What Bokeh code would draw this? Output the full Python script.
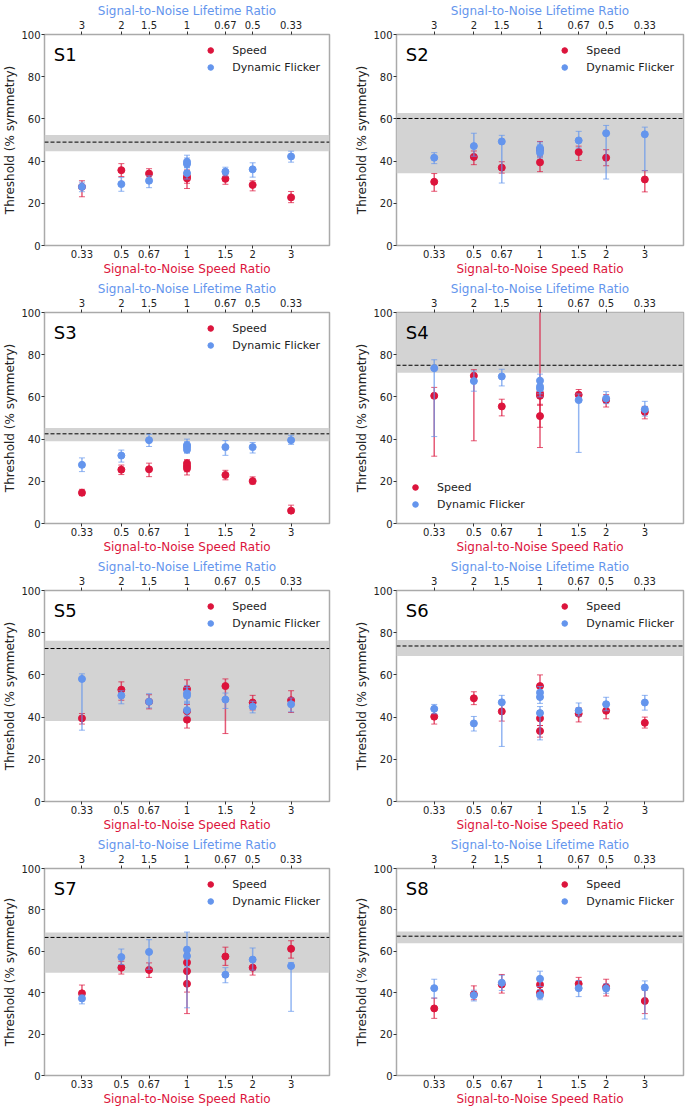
from bokeh.plotting import figure
from bokeh.models import (Range1d, FixedTicker, LogAxis, BoxAnnotation, Span, Label,
                          ColumnDataSource, BasicTickFormatter)
from bokeh.layouts import column, row
from bokeh.embed import file_html
from bokeh.resources import INLINE

FONT = "DejaVu Sans"
RED = "#DC143C"
BLUE = "#6495ED"

x_ticks = [0.33, 0.5, 0.67, 1, 1.5, 2, 3]
speed_tick_labels = ["0.33", "0.5", "0.67", "1", "1.5", "2", "3"]
lifetime_tick_labels = ["3", "2", "1.5", "1", "0.67", "0.5", "0.33"]
y_ticks = [0, 20, 40, 60, 80, 100]

subjects = ["S1", "S2", "S3", "S4", "S5", "S6", "S7", "S8"]
band_low = [44.7, 34.3, 39.0, 71.4, 38.1, 68.9, 49.6, 63.9]
band_high = [52.4, 62.8, 45.3, 100.0, 76.2, 76.5, 69.1, 69.6]
chance_level = [49.0, 60.2, 42.5, 75.0, 72.5, 73.7, 66.7, 67.3]
legend_location = ["top_right", "top_right", "top_right", "bottom_left",
                   "top_right", "top_right", "top_right", "top_right"]

# (ratio, threshold, lower error, upper error)
s1_speed = [(0.33, 27.8, 23.1, 30.7), (0.5, 35.7, 32.7, 38.8), (0.67, 34.1, 31.9, 36.4),
            (1, 32.7, 29.5, 35.8), (1, 31.8, 27.0, 34.5), (1.5, 31.6, 29.0, 33.8),
            (2, 28.7, 25.9, 30.7), (3, 22.8, 20.3, 25.6)]
s1_flicker = [(0.33, 27.8, 25.5, 30.0), (0.5, 29.1, 25.7, 32.2), (0.67, 30.7, 27.4, 33.0),
              (1, 39.7, 36.8, 42.8), (1, 38.6, 35.5, 41.5), (1, 34.3, 31.5, 37.0),
              (1.5, 35.0, 33.0, 37.1), (2, 36.1, 32.4, 39.2), (3, 42.2, 39.5, 44.7)]

s2_speed = [(0.33, 30.2, 25.7, 34.1), (0.5, 42.0, 38.3, 44.8), (0.67, 36.9, 34.3, 39.7),
            (1, 45.5, 42.0, 49.3), (1, 39.4, 35.0, 42.8), (1.5, 44.3, 40.3, 47.1),
            (2, 41.6, 37.8, 45.4), (3, 31.3, 25.4, 35.5)]
s2_flicker = [(0.33, 41.6, 38.8, 44.0), (0.5, 47.1, 42.3, 53.2), (0.67, 49.3, 29.6, 52.2),
              (1, 46.2, 43.0, 49.0), (1, 45.1, 42.0, 48.0), (1, 44.0, 41.5, 47.0),
              (1.5, 49.8, 46.2, 54.1), (2, 53.2, 31.5, 56.9), (3, 52.7, 35.5, 56.1)]

s3_speed = [(0.33, 14.6, 13.2, 16.2), (0.5, 25.5, 23.2, 27.7), (0.67, 25.7, 22.2, 28.6),
            (1, 28.5, 26.0, 30.3), (1, 27.2, 24.5, 29.5), (1, 26.1, 23.0, 28.5),
            (1.5, 23.0, 20.7, 25.2), (2, 20.1, 18.7, 22.1), (3, 6.1, 5.0, 8.7)]
s3_flicker = [(0.33, 27.8, 24.6, 31.1), (0.5, 32.2, 29.1, 34.8), (0.67, 39.5, 36.5, 42.3),
              (1, 37.2, 34.5, 40.0), (1, 36.2, 33.8, 38.8), (1, 35.0, 33.3, 37.5),
              (1.5, 36.2, 32.3, 39.3), (2, 36.2, 33.4, 38.4), (3, 39.5, 37.5, 41.8)]

s4_speed = [(0.33, 60.5, 31.9, 64.5), (0.5, 70.0, 39.2, 72.9), (0.67, 55.5, 51.0, 58.9),
            (1, 61.7, 36.0, 105.0), (1, 60.5, 56.0, 64.5), (1, 50.9, 45.6, 56.5),
            (1.5, 61.0, 58.3, 63.5), (2, 58.5, 55.2, 61.1), (3, 52.9, 49.6, 55.5)]
s4_flicker = [(0.33, 73.6, 41.2, 77.6), (0.5, 67.5, 62.7, 72.3), (0.67, 69.7, 65.2, 73.1),
              (1, 67.7, 64.5, 70.8), (1, 64.9, 61.5, 68.0), (1, 63.9, 60.0, 67.0),
              (1.5, 58.5, 33.7, 61.4), (2, 59.3, 56.8, 62.5), (3, 54.1, 50.9, 57.9)]

s5_speed = [(0.33, 39.4, 36.7, 41.7), (0.5, 53.0, 48.0, 56.7), (0.67, 47.3, 43.9, 50.6),
            (1, 53.3, 49.5, 57.7), (1, 42.8, 39.5, 46.0), (1, 38.8, 34.8, 42.5),
            (1.5, 54.7, 32.2, 58.1), (2, 46.9, 43.4, 50.3), (3, 48.0, 42.2, 52.5)]
s5_flicker = [(0.33, 58.1, 33.8, 60.5), (0.5, 50.2, 46.3, 52.5), (0.67, 47.3, 44.4, 51.1),
              (1, 51.3, 47.5, 55.0), (1, 50.2, 46.5, 54.0), (1, 43.3, 40.5, 47.0),
              (1.5, 48.3, 44.1, 51.4), (2, 45.0, 42.0, 47.5), (3, 46.1, 42.5, 49.1)]

s6_speed = [(0.33, 40.2, 36.7, 43.6), (0.5, 48.9, 45.9, 52.0), (0.67, 42.7, 38.1, 46.7),
            (1, 54.7, 49.5, 60.0), (1, 39.4, 36.0, 43.0), (1, 33.4, 30.5, 36.0),
            (1.5, 41.6, 37.7, 44.4), (2, 43.0, 39.2, 46.3), (3, 37.3, 34.8, 40.0)]
s6_flicker = [(0.33, 43.9, 41.6, 46.0), (0.5, 37.0, 33.4, 40.3), (0.67, 47.0, 26.1, 50.3),
              (1, 51.6, 48.5, 54.5), (1, 49.5, 46.5, 52.5), (1, 41.9, 29.2, 45.0),
              (1.5, 43.1, 40.5, 46.7), (2, 46.1, 43.0, 49.4), (3, 46.9, 43.3, 50.3)]

s7_speed = [(0.33, 39.7, 36.6, 43.7), (0.5, 52.1, 49.0, 55.2), (0.67, 51.0, 47.4, 54.4),
            (1, 54.6, 50.5, 59.0), (1, 50.4, 40.3, 55.0), (1, 44.3, 29.9, 50.5),
            (1.5, 57.5, 53.2, 62.0), (2, 52.1, 48.5, 55.2), (3, 61.2, 56.7, 65.1)]
s7_flicker = [(0.33, 37.2, 34.6, 38.9), (0.5, 57.2, 53.6, 61.1), (0.67, 59.7, 51.3, 65.6),
              (1, 60.8, 52.5, 69.3), (1, 57.7, 32.7, 62.0), (1.5, 48.7, 44.8, 52.1),
              (2, 56.0, 50.9, 61.6), (3, 52.9, 31.0, 54.6)]

s8_speed = [(0.33, 32.4, 27.6, 37.4), (0.5, 39.2, 36.6, 43.3), (0.67, 44.0, 39.8, 48.8),
            (1, 43.9, 41.0, 47.0), (1, 40.0, 37.5, 43.0), (1.5, 44.3, 41.2, 47.4),
            (2, 42.8, 38.4, 46.5), (3, 36.0, 29.9, 41.2)]
s8_flicker = [(0.33, 42.2, 37.4, 46.5), (0.5, 38.8, 36.0, 41.2), (0.67, 44.8, 41.1, 48.4),
              (1, 46.7, 43.0, 50.4), (1, 38.8, 36.6, 41.5), (1.5, 42.2, 38.1, 45.9),
              (2, 42.0, 39.7, 44.3), (3, 42.5, 27.3, 45.7)]

speed_data = [s1_speed, s2_speed, s3_speed, s4_speed, s5_speed, s6_speed, s7_speed, s8_speed]
flicker_data = [s1_flicker, s2_flicker, s3_flicker, s4_flicker,
                s5_flicker, s6_flicker, s7_flicker, s8_flicker]


def to_source(rows):
    return ColumnDataSource(dict(
        x=[r[0] for r in rows], y=[r[1] for r in rows],
        lo=[r[2] for r in rows], hi=[r[3] for r in rows]))


def style_axis(ax, label, color, label_standoff=1, title_standoff=1):
    ax.axis_label = label
    ax.axis_label_text_color = color
    ax.axis_label_text_font = FONT
    ax.axis_label_text_font_size = "12px"
    ax.axis_label_text_font_style = "normal"
    ax.axis_label_standoff = title_standoff
    ax.major_label_text_font = FONT
    ax.major_label_text_font_size = "10px"
    ax.major_label_text_color = "#222222"
    ax.major_label_standoff = label_standoff
    ax.axis_line_color = None
    ax.major_tick_line_color = "#333333"
    ax.major_tick_in = 0
    ax.major_tick_out = 3
    ax.minor_tick_line_color = None


def add_series(p, rows, color, label):
    src = to_source(rows)
    p.segment(x0="x", y0="lo", x1="x", y1="hi", source=src,
              line_color=color, line_alpha=0.7, line_width=1.5)
    p.scatter(x="x", y="lo", source=src, marker="dash", size=6,
              line_color=color, line_alpha=0.7, line_width=1)
    p.scatter(x="x", y="hi", source=src, marker="dash", size=6,
              line_color=color, line_alpha=0.7, line_width=1)
    p.scatter(x="x", y="y", source=src, marker="circle", size=7,
              fill_color=color, line_color=color, legend_label=label)


def make_panel(i):
    col = i % 2
    if col == 0:
        width, left, right = 340, 41, 11
    else:
        width, left, right = 345, 56, 2
    height = 278 if i < 6 else 274
    p = figure(width=width, height=height, x_axis_type="log",
               x_range=Range1d(1 / 4.5, 4.5), y_range=Range1d(0, 100),
               output_backend="svg", toolbar_location=None,
               min_border_left=left, min_border_right=right,
               min_border_top=29, min_border_bottom=32)
    p.xgrid.visible = False
    p.ygrid.visible = False
    p.outline_line_color = "#aaaaaa"
    p.outline_line_width = 1.5
    p.background_fill_color = "white"
    p.border_fill_color = "white"

    p.xaxis.ticker = FixedTicker(ticks=x_ticks, minor_ticks=[])
    p.xaxis.formatter = BasicTickFormatter()
    p.xaxis.major_label_overrides = {t: s for t, s in zip(x_ticks, speed_tick_labels)}
    style_axis(p.xaxis[0], "Signal-to-Noise Speed Ratio", RED, 1, 1)

    p.yaxis.ticker = FixedTicker(ticks=y_ticks, minor_ticks=[])
    style_axis(p.yaxis[0], "Threshold (% symmetry)", "#222222", 1, 1)

    top = LogAxis(ticker=FixedTicker(ticks=x_ticks, minor_ticks=[]),
                  formatter=BasicTickFormatter(),
                  major_label_overrides={t: s for t, s in zip(x_ticks, lifetime_tick_labels)})
    style_axis(top, "Signal-to-Noise Lifetime Ratio", BLUE, 3, 0)
    p.add_layout(top, "above")

    p.add_layout(BoxAnnotation(bottom=band_low[i], top=band_high[i],
                               fill_color="#d3d3d3", fill_alpha=1.0,
                               line_color=None, level="underlay"))
    p.add_layout(Span(location=chance_level[i], dimension="width",
                      line_color="black", line_dash="4 2", line_width=1,
                      level="underlay"))

    add_series(p, speed_data[i], RED, "Speed")
    add_series(p, flicker_data[i], BLUE, "Dynamic Flicker")

    p.add_layout(Label(x=0.245, y=95.5, text=subjects[i], text_font=FONT,
                       text_font_size="18px", text_baseline="top",
                       text_color="black"))

    lg = p.legend[0]
    lg.location = legend_location[i]
    lg.border_line_alpha = 0
    lg.background_fill_alpha = 0
    lg.label_text_font = FONT
    lg.label_text_font_size = "11px"
    lg.label_text_color = "#222222"
    lg.glyph_width = 14
    lg.glyph_height = 14
    lg.label_height = 14
    lg.spacing = 3
    lg.padding = 3
    lg.margin = 9 if legend_location[i] == "bottom_left" else 6
    lg.label_standoff = 15
    return p


panels = [make_panel(i) for i in range(8)]
layout = column(row(panels[0], panels[1]), row(panels[2], panels[3]),
                row(panels[4], panels[5]), row(panels[6], panels[7]))

open("out.html", "w").write(file_html(layout, INLINE))
